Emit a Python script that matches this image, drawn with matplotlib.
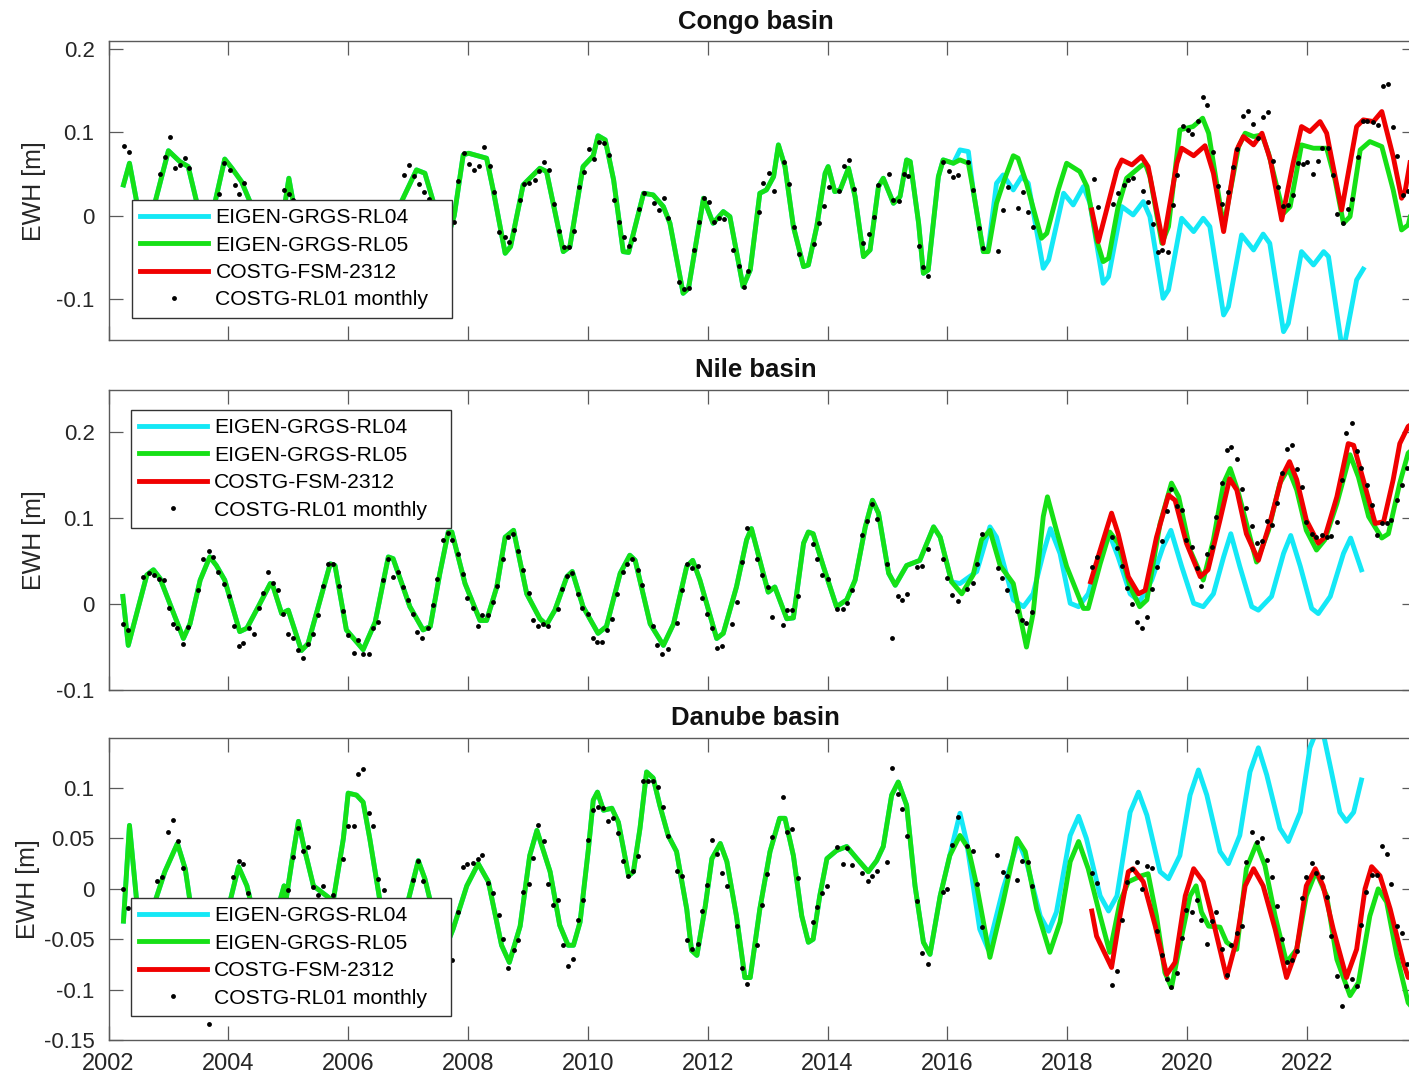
import numpy as np
import matplotlib.pyplot as plt
from matplotlib.lines import Line2D
from matplotlib.ticker import FormatStrFormatter

plt.rcParams['font.family'] = ['Liberation Sans', 'DejaVu Sans']

series_names = ["EIGEN-GRGS-RL04", "EIGEN-GRGS-RL05", "COSTG-FSM-2312", "COSTG-RL01 monthly"]
year_ticks = list(range(2002, 2024, 2))

# ---------------- Congo ----------------
congo_rl05 = [
    (2002.25, 0.037), (2002.35, 0.063), (2002.47, 0.017), (2002.60, -0.020), (2002.78, 0.017), (2003.00, 0.078),
    (2003.19, 0.065), (2003.33, 0.059), (2003.47, 0.017), (2003.60, -0.030), (2003.78, 0.017), (2003.94, 0.068),
    (2004.06, 0.057), (2004.22, 0.041), (2004.36, 0.017), (2004.60, -0.050), (2004.95, 0.017), (2005.01, 0.045),
    (2005.08, 0.017), (2005.50, -0.050), (2006.20, 0.000), (2006.60, -0.060), (2006.89, 0.017), (2007.14, 0.055),
    (2007.28, 0.051), (2007.42, 0.017), (2007.60, -0.040), (2007.77, 0.000), (2007.92, 0.073), (2008.01, 0.075),
    (2008.31, 0.069), (2008.42, 0.031), (2008.62, -0.045), (2008.71, -0.037), (2008.92, 0.037), (2009.20, 0.057),
    (2009.31, 0.053), (2009.59, -0.043), (2009.70, -0.037), (2009.92, 0.059), (2010.09, 0.072), (2010.17, 0.096),
    (2010.29, 0.091), (2010.43, 0.043), (2010.59, -0.043), (2010.68, -0.044), (2010.93, 0.027), (2011.09, 0.025),
    (2011.26, 0.011), (2011.37, -0.009), (2011.59, -0.093), (2011.68, -0.087), (2011.93, 0.021), (2012.09, -0.009),
    (2012.26, 0.005), (2012.37, -0.001), (2012.59, -0.085), (2012.71, -0.065), (2012.87, 0.027), (2012.98, 0.031),
    (2013.10, 0.047), (2013.18, 0.085), (2013.29, 0.059), (2013.43, -0.013), (2013.60, -0.061), (2013.68, -0.059),
    (2013.82, -0.013), (2013.96, 0.051), (2014.01, 0.059), (2014.12, 0.029), (2014.21, 0.031), (2014.35, 0.057),
    (2014.46, 0.023), (2014.60, -0.049), (2014.71, -0.041), (2014.85, 0.035), (2014.93, 0.045), (2015.10, 0.015),
    (2015.21, 0.023), (2015.32, 0.067), (2015.38, 0.065), (2015.52, -0.009), (2015.60, -0.069), (2015.68, -0.065),
    (2015.85, 0.047), (2015.93, 0.067), (2016.10, 0.063), (2016.21, 0.067), (2016.35, 0.063), (2016.43, 0.031),
    (2016.60, -0.043), (2016.68, -0.043), (2016.82, 0.015), (2016.93, 0.039), (2017.10, 0.072), (2017.18, 0.069),
    (2017.32, 0.039), (2017.57, -0.027), (2017.66, -0.021), (2017.85, 0.031), (2017.99, 0.063), (2018.21, 0.053),
    (2018.33, 0.035), (2018.49, -0.029), (2018.60, -0.055), (2018.69, -0.051), (2018.85, 0.011), (2018.99, 0.045),
    (2019.22, 0.059), (2019.30, 0.063), (2019.38, 0.047), (2019.58, -0.033), (2019.69, -0.013), (2019.88, 0.103),
    (2020.10, 0.107), (2020.26, 0.117), (2020.36, 0.099), (2020.61, -0.013), (2020.86, 0.083), (2020.97, 0.099),
    (2021.11, 0.095), (2021.25, 0.097), (2021.36, 0.075), (2021.61, 0.003), (2021.72, 0.011), (2021.91, 0.085),
    (2022.11, 0.081), (2022.33, 0.081), (2022.47, 0.043), (2022.61, -0.009), (2022.72, -0.001), (2022.89, 0.079),
    (2023.05, 0.089), (2023.25, 0.083), (2023.44, 0.031), (2023.58, -0.017), (2023.69, -0.011), (2023.76, 0.010),
]
congo_rl04_late = [
    (2016.21, 0.079), (2016.35, 0.077), (2016.43, 0.031), (2016.60, -0.043), (2016.68, -0.041), (2016.82, 0.039),
    (2016.93, 0.049), (2017.10, 0.031), (2017.24, 0.047), (2017.35, 0.039), (2017.60, -0.063), (2017.69, -0.053),
    (2017.94, 0.027), (2018.10, 0.013), (2018.27, 0.035), (2018.38, 0.015), (2018.60, -0.081), (2018.69, -0.073),
    (2018.91, 0.011), (2019.10, 0.001), (2019.27, 0.017), (2019.38, -0.001), (2019.60, -0.099), (2019.69, -0.089),
    (2019.91, -0.003), (2020.11, -0.019), (2020.27, -0.003), (2020.38, -0.013), (2020.61, -0.119), (2020.69, -0.109),
    (2020.91, -0.023), (2021.11, -0.041), (2021.27, -0.022), (2021.38, -0.033), (2021.61, -0.139), (2021.69, -0.129),
    (2021.91, -0.043), (2022.11, -0.059), (2022.28, -0.043), (2022.36, -0.049), (2022.60, -0.165), (2022.83, -0.077),
    (2022.94, -0.064),
]
congo_fsm = [
    (2018.41, 0.007), (2018.52, -0.031), (2018.83, 0.055), (2018.91, 0.067), (2019.08, 0.061), (2019.24, 0.071),
    (2019.35, 0.059), (2019.60, -0.033), (2019.83, 0.063), (2019.91, 0.081), (2020.11, 0.072), (2020.30, 0.084),
    (2020.44, 0.051), (2020.61, -0.019), (2020.83, 0.079), (2020.94, 0.095), (2021.11, 0.085), (2021.25, 0.099),
    (2021.39, 0.067), (2021.58, -0.005), (2021.77, 0.063), (2021.91, 0.107), (2022.05, 0.101), (2022.22, 0.113),
    (2022.33, 0.099), (2022.58, 0.007), (2022.83, 0.107), (2022.94, 0.115), (2023.11, 0.113), (2023.25, 0.125),
    (2023.44, 0.071), (2023.58, 0.021), (2023.64, 0.030), (2023.76, 0.080),
]
congo_monthly = [
    (2002.26, 0.084), (2002.35, 0.077), (2002.86, 0.050), (2002.94, 0.071), (2003.03, 0.094), (2003.11, 0.057),
    (2003.19, 0.061), (2003.28, 0.069), (2003.35, 0.057), (2003.85, 0.026), (2003.93, 0.063), (2004.03, 0.055),
    (2004.11, 0.037), (2004.18, 0.026), (2004.26, 0.039), (2004.93, 0.031), (2005.02, 0.026), (2005.08, 0.019),
    (2006.93, 0.049), (2007.02, 0.061), (2007.10, 0.048), (2007.19, 0.038), (2007.27, 0.029), (2007.35, 0.020),
    (2007.77, -0.007), (2007.84, 0.042), (2007.93, 0.075), (2008.02, 0.062), (2008.10, 0.055), (2008.19, 0.060),
    (2008.27, 0.082), (2008.36, 0.060), (2008.44, 0.028), (2008.52, -0.019), (2008.61, -0.025), (2008.69, -0.031),
    (2008.77, -0.017), (2008.86, 0.019), (2008.93, 0.038), (2009.02, 0.039), (2009.11, 0.043), (2009.19, 0.054),
    (2009.26, 0.064), (2009.35, 0.055), (2009.43, 0.014), (2009.52, -0.018), (2009.60, -0.038), (2009.69, -0.038),
    (2009.77, -0.018), (2009.85, 0.034), (2009.93, 0.053), (2010.02, 0.080), (2010.10, 0.068), (2010.19, 0.089),
    (2010.27, 0.087), (2010.35, 0.073), (2010.44, 0.019), (2010.52, -0.008), (2010.60, -0.026), (2010.69, -0.036),
    (2010.77, -0.028), (2010.85, 0.008), (2010.94, 0.027), (2011.10, 0.015), (2011.19, 0.007), (2011.27, 0.021),
    (2011.34, -0.003), (2011.52, -0.080), (2011.60, -0.088), (2011.69, -0.087), (2011.77, -0.041), (2011.85, -0.007),
    (2011.93, 0.021), (2012.02, 0.017), (2012.105, -0.008), (2012.19, -0.003), (2012.27, -0.004), (2012.43, -0.041),
    (2012.52, -0.060), (2012.60, -0.085), (2012.68, -0.066), (2012.85, 0.005), (2012.93, 0.039), (2013.02, 0.051),
    (2013.10, 0.030), (2013.27, 0.065), (2013.35, 0.038), (2013.44, -0.014), (2013.52, -0.046), (2013.77, -0.034),
    (2013.85, -0.009), (2013.94, 0.012), (2014.02, 0.035), (2014.19, 0.030), (2014.27, 0.060), (2014.35, 0.067),
    (2014.44, 0.032), (2014.60, -0.033), (2014.69, -0.022), (2014.77, -0.002), (2014.85, 0.037), (2015.02, 0.050),
    (2015.10, 0.019), (2015.19, 0.018), (2015.27, 0.050), (2015.35, 0.048), (2015.52, -0.036), (2015.60, -0.061),
    (2015.68, -0.072), (2015.93, 0.064), (2016.02, 0.054), (2016.10, 0.047), (2016.18, 0.049), (2016.35, 0.065),
    (2016.43, 0.031), (2016.52, -0.015), (2016.60, -0.039), (2016.85, -0.042), (2016.93, 0.007), (2017.02, 0.034),
    (2017.18, 0.009), (2017.27, 0.028), (2017.35, 0.005), (2017.43, -0.013), (2018.44, 0.044), (2018.52, 0.011),
    (2018.77, 0.014), (2018.85, 0.027), (2018.94, 0.037), (2019.02, 0.043), (2019.10, 0.045), (2019.26, 0.030),
    (2019.34, 0.017), (2019.43, -0.010), (2019.51, -0.043), (2019.59, -0.041), (2019.68, -0.044), (2019.76, 0.013),
    (2019.84, 0.049), (2019.93, 0.108), (2020.01, 0.103), (2020.09, 0.098), (2020.18, 0.114), (2020.26, 0.143),
    (2020.34, 0.133), (2020.43, 0.077), (2020.51, 0.036), (2020.59, 0.014), (2020.68, 0.029), (2020.76, 0.059),
    (2020.84, 0.080), (2020.93, 0.120), (2021.01, 0.126), (2021.10, 0.110), (2021.18, 0.093), (2021.26, 0.118),
    (2021.35, 0.124), (2021.43, 0.066), (2021.51, 0.035), (2021.60, 0.012), (2021.68, 0.013), (2021.76, 0.025),
    (2021.85, 0.063), (2021.93, 0.062), (2022.01, 0.064), (2022.10, 0.050), (2022.18, 0.066), (2022.26, 0.081),
    (2022.35, 0.081), (2022.43, 0.049), (2022.51, 0.002), (2022.60, -0.009), (2022.68, 0.008), (2022.76, 0.020),
    (2022.85, 0.070), (2022.93, 0.114), (2023.01, 0.114), (2023.10, 0.112), (2023.18, 0.109), (2023.27, 0.156),
    (2023.35, 0.158), (2023.43, 0.106), (2023.51, 0.072), (2023.60, 0.025), (2023.68, 0.030),
]

# ---------------- Nile ----------------
nile_rl05 = [
    (2002.24, 0.009), (2002.33, -0.048), (2002.47, -0.011), (2002.64, 0.034), (2002.75, 0.040), (2002.86, 0.030),
    (2003.25, -0.040), (2003.36, -0.023), (2003.53, 0.028), (2003.69, 0.055), (2003.80, 0.045), (2003.94, 0.028),
    (2004.19, -0.032), (2004.31, -0.028), (2004.50, -0.003), (2004.70, 0.024), (2004.75, 0.020), (2004.89, -0.011),
    (2005.00, -0.007), (2005.22, -0.054), (2005.33, -0.046), (2005.56, 0.012), (2005.70, 0.047), (2005.78, 0.045),
    (2005.97, -0.030), (2006.25, -0.053), (2006.45, -0.021), (2006.67, 0.055), (2006.75, 0.053), (2007.03, -0.003),
    (2007.25, -0.030), (2007.37, -0.026), (2007.53, 0.036), (2007.67, 0.084), (2007.73, 0.084), (2007.95, 0.024),
    (2008.20, -0.019), (2008.31, -0.019), (2008.48, 0.020), (2008.62, 0.078), (2008.76, 0.086), (2008.98, 0.012),
    (2009.20, -0.017), (2009.31, -0.024), (2009.45, -0.007), (2009.65, 0.032), (2009.74, 0.038), (2009.92, -0.003),
    (2010.17, -0.034), (2010.31, -0.026), (2010.54, 0.036), (2010.70, 0.057), (2010.79, 0.051), (2011.04, -0.023),
    (2011.26, -0.048), (2011.43, -0.023), (2011.65, 0.044), (2011.75, 0.051), (2011.87, 0.028), (2012.15, -0.040),
    (2012.26, -0.034), (2012.48, 0.020), (2012.65, 0.075), (2012.73, 0.088), (2012.87, 0.051), (2013.01, 0.014),
    (2013.12, 0.020), (2013.32, -0.017), (2013.43, -0.016), (2013.60, 0.071), (2013.68, 0.084), (2013.76, 0.082),
    (2013.93, 0.044), (2014.15, -0.003), (2014.32, 0.005), (2014.46, 0.028), (2014.63, 0.090), (2014.75, 0.121),
    (2014.85, 0.106), (2015.02, 0.036), (2015.13, 0.022), (2015.32, 0.045), (2015.54, 0.051), (2015.77, 0.090),
    (2015.88, 0.078), (2016.07, 0.026), (2016.24, 0.012), (2016.43, 0.034), (2016.57, 0.075), (2016.71, 0.086),
    (2016.88, 0.045), (2017.10, 0.024), (2017.32, -0.050), (2017.43, -0.011), (2017.60, 0.102), (2017.67, 0.125),
    (2017.82, 0.086), (2017.99, 0.044), (2018.27, -0.005), (2018.35, -0.005), (2018.55, 0.047), (2018.71, 0.084),
    (2018.85, 0.071), (2019.05, 0.020), (2019.21, -0.003), (2019.33, 0.005), (2019.55, 0.094), (2019.74, 0.141),
    (2019.86, 0.125), (2020.05, 0.063), (2020.27, 0.028), (2020.44, 0.075), (2020.61, 0.141), (2020.72, 0.158),
    (2020.86, 0.129), (2021.05, 0.078), (2021.16, 0.049), (2021.36, 0.086), (2021.55, 0.141), (2021.69, 0.158),
    (2021.83, 0.133), (2021.99, 0.086), (2022.16, 0.063), (2022.30, 0.075), (2022.50, 0.117), (2022.72, 0.174),
    (2022.86, 0.148), (2023.03, 0.102), (2023.25, 0.077), (2023.36, 0.082), (2023.55, 0.141), (2023.69, 0.176),
    (2023.76, 0.180),
]
nile_rl04_late = [
    (2016.21, 0.024), (2016.49, 0.038), (2016.71, 0.090), (2016.82, 0.078), (2017.10, 0.005), (2017.27, -0.003),
    (2017.43, 0.012), (2017.60, 0.059), (2017.72, 0.088), (2017.88, 0.059), (2018.05, 0.001), (2018.19, -0.003),
    (2018.35, 0.012), (2018.55, 0.059), (2018.69, 0.084), (2018.85, 0.055), (2019.05, 0.012), (2019.21, 0.003),
    (2019.41, 0.028), (2019.60, 0.067), (2019.73, 0.086), (2019.91, 0.044), (2020.11, 0.001), (2020.27, -0.003),
    (2020.44, 0.012), (2020.61, 0.055), (2020.73, 0.082), (2020.88, 0.044), (2021.08, -0.003), (2021.19, -0.007),
    (2021.41, 0.009), (2021.61, 0.059), (2021.73, 0.080), (2021.89, 0.044), (2022.08, -0.005), (2022.19, -0.011),
    (2022.39, 0.009), (2022.61, 0.059), (2022.73, 0.077), (2022.91, 0.040),
]
nile_fsm = [
    (2018.39, 0.026), (2018.55, 0.063), (2018.74, 0.106), (2018.85, 0.082), (2019.02, 0.032), (2019.19, 0.012),
    (2019.30, 0.016), (2019.49, 0.078), (2019.69, 0.127), (2019.80, 0.121), (2019.99, 0.071), (2020.22, 0.032),
    (2020.35, 0.040), (2020.55, 0.098), (2020.71, 0.146), (2020.83, 0.133), (2020.99, 0.082), (2021.19, 0.051),
    (2021.38, 0.094), (2021.58, 0.148), (2021.71, 0.166), (2021.83, 0.145), (2021.99, 0.098), (2022.19, 0.071),
    (2022.30, 0.078), (2022.50, 0.125), (2022.69, 0.187), (2022.78, 0.185), (2022.94, 0.145), (2023.14, 0.094),
    (2023.28, 0.096), (2023.44, 0.145), (2023.55, 0.187), (2023.69, 0.207), (2023.76, 0.210),
]
nile_monthly = [
    (2002.24, -0.023), (2002.33, -0.030), (2002.58, 0.032), (2002.68, 0.036), (2002.76, 0.034), (2002.85, 0.029),
    (2002.93, 0.028), (2003.01, -0.005), (2003.08, -0.023), (2003.15, -0.028), (2003.25, -0.046), (2003.33, -0.027),
    (2003.50, 0.016), (2003.58, 0.052), (2003.67, 0.062), (2003.75, 0.055), (2003.83, 0.037), (2003.93, 0.024),
    (2004.01, 0.009), (2004.09, -0.026), (2004.17, -0.049), (2004.25, -0.045), (2004.34, -0.028), (2004.43, -0.035),
    (2004.51, -0.004), (2004.58, 0.013), (2004.67, 0.038), (2004.75, 0.025), (2004.83, 0.016), (2004.92, -0.011),
    (2005.00, -0.035), (2005.08, -0.040), (2005.17, -0.053), (2005.25, -0.063), (2005.33, -0.046), (2005.42, -0.035),
    (2005.50, -0.013), (2005.58, 0.021), (2005.67, 0.047), (2005.75, 0.047), (2005.84, 0.021), (2005.92, -0.008),
    (2006.00, -0.036), (2006.09, -0.057), (2006.17, -0.042), (2006.25, -0.058), (2006.34, -0.058), (2006.42, -0.028),
    (2006.49, -0.021), (2006.58, 0.028), (2006.66, 0.052), (2006.74, 0.032), (2006.83, 0.038), (2006.91, 0.020),
    (2006.99, 0.005), (2007.08, -0.011), (2007.15, -0.033), (2007.23, -0.040), (2007.33, -0.028), (2007.41, -0.001),
    (2007.49, 0.029), (2007.58, 0.075), (2007.66, 0.083), (2007.74, 0.075), (2007.83, 0.058), (2007.91, 0.035),
    (2007.99, 0.007), (2008.08, -0.005), (2008.16, -0.026), (2008.24, -0.013), (2008.33, -0.013), (2008.41, 0.002),
    (2008.49, 0.021), (2008.58, 0.052), (2008.66, 0.078), (2008.75, 0.082), (2008.83, 0.062), (2008.91, 0.040),
    (2009.01, 0.013), (2009.08, -0.018), (2009.16, -0.026), (2009.25, -0.023), (2009.33, -0.026), (2009.50, -0.006),
    (2009.57, 0.018), (2009.66, 0.033), (2009.74, 0.036), (2009.83, 0.012), (2009.91, -0.005), (2010.00, -0.012),
    (2010.08, -0.040), (2010.16, -0.044), (2010.24, -0.044), (2010.32, -0.030), (2010.41, -0.017), (2010.49, 0.012),
    (2010.58, 0.037), (2010.66, 0.047), (2010.74, 0.052), (2010.83, 0.040), (2010.91, 0.022), (2011.08, -0.026),
    (2011.16, -0.048), (2011.24, -0.058), (2011.33, -0.052), (2011.48, -0.022), (2011.57, 0.017), (2011.66, 0.047),
    (2011.74, 0.042), (2011.83, 0.044), (2011.91, 0.007), (2011.99, -0.011), (2012.08, -0.028), (2012.16, -0.051),
    (2012.24, -0.049), (2012.41, -0.023), (2012.49, 0.003), (2012.58, 0.049), (2012.66, 0.089), (2012.83, 0.052),
    (2012.91, 0.034), (2013.00, 0.020), (2013.08, -0.015), (2013.25, -0.024), (2013.33, -0.007), (2013.41, -0.007),
    (2013.50, 0.010), (2013.75, 0.070), (2013.83, 0.052), (2013.91, 0.034), (2014.00, 0.029), (2014.16, -0.006),
    (2014.25, -0.006), (2014.33, 0.001), (2014.41, 0.016), (2014.58, 0.080), (2014.66, 0.097), (2014.75, 0.117),
    (2014.83, 0.099), (2015.00, 0.047), (2015.08, -0.039), (2015.17, 0.009), (2015.25, 0.005), (2015.33, 0.012),
    (2015.50, 0.043), (2015.58, 0.044), (2015.67, 0.064), (2015.92, 0.052), (2016.00, 0.031), (2016.08, 0.011),
    (2016.17, 0.004), (2016.33, 0.018), (2016.42, 0.025), (2016.50, 0.047), (2016.58, 0.082), (2016.84, 0.042),
    (2016.91, 0.030), (2016.99, 0.017), (2017.16, -0.008), (2017.24, -0.018), (2017.32, -0.022), (2017.41, -0.009),
    (2018.41, 0.043), (2018.49, 0.055), (2018.74, 0.078), (2018.83, 0.065), (2018.91, 0.044), (2018.99, 0.019),
    (2019.08, 0.000), (2019.16, -0.021), (2019.24, -0.028), (2019.33, -0.015), (2019.41, 0.018), (2019.49, 0.043),
    (2019.58, 0.074), (2019.66, 0.108), (2019.74, 0.134), (2019.83, 0.114), (2019.91, 0.110), (2019.99, 0.075),
    (2020.08, 0.066), (2020.16, 0.042), (2020.24, 0.021), (2020.33, 0.058), (2020.41, 0.066), (2020.49, 0.102),
    (2020.58, 0.141), (2020.66, 0.179), (2020.74, 0.183), (2020.83, 0.169), (2020.91, 0.134), (2020.99, 0.112),
    (2021.08, 0.091), (2021.16, 0.071), (2021.25, 0.074), (2021.33, 0.097), (2021.41, 0.092), (2021.50, 0.118),
    (2021.58, 0.153), (2021.66, 0.181), (2021.75, 0.185), (2021.83, 0.157), (2021.91, 0.136), (2021.99, 0.096),
    (2022.08, 0.082), (2022.16, 0.078), (2022.25, 0.080), (2022.33, 0.078), (2022.41, 0.079), (2022.50, 0.096),
    (2022.58, 0.145), (2022.66, 0.199), (2022.75, 0.211), (2022.83, 0.178), (2022.91, 0.159), (2023.00, 0.139),
    (2023.08, 0.115), (2023.17, 0.080), (2023.25, 0.094), (2023.33, 0.094), (2023.41, 0.098), (2023.50, 0.121),
    (2023.58, 0.139), (2023.67, 0.159),
]

# ---------------- Danube ----------------
danube_rl05 = [
    (2002.25, -0.032), (2002.35, 0.063), (2002.47, -0.012), (2002.60, -0.050), (2002.78, -0.012), (2002.94, 0.017),
    (2003.15, 0.045), (2003.28, 0.020), (2003.36, -0.012), (2003.60, -0.080), (2003.90, -0.060), (2004.03, -0.012),
    (2004.17, 0.022), (2004.31, 0.003), (2004.37, -0.012), (2004.60, -0.070), (2004.86, -0.012), (2004.93, 0.003),
    (2004.96, -0.012), (2005.06, 0.027), (2005.17, 0.067), (2005.26, 0.042), (2005.42, 0.003), (2005.64, -0.007),
    (2005.75, -0.012), (2005.92, 0.050), (2006.00, 0.095), (2006.14, 0.093), (2006.25, 0.086), (2006.36, 0.050),
    (2006.53, -0.012), (2006.70, -0.060), (2007.00, -0.012), (2007.17, 0.028), (2007.28, 0.010), (2007.37, -0.012),
    (2007.55, -0.070), (2007.75, -0.040), (2007.98, 0.003), (2008.17, 0.025), (2008.34, 0.007), (2008.56, -0.056),
    (2008.69, -0.073), (2008.87, -0.037), (2009.03, 0.033), (2009.15, 0.058), (2009.37, 0.017), (2009.53, -0.036),
    (2009.67, -0.056), (2009.76, -0.056), (2009.87, -0.033), (2010.01, 0.040), (2010.09, 0.088), (2010.16, 0.096),
    (2010.26, 0.078), (2010.40, 0.080), (2010.51, 0.066), (2010.68, 0.013), (2010.76, 0.017), (2010.87, 0.060),
    (2010.98, 0.116), (2011.09, 0.110), (2011.20, 0.083), (2011.34, 0.053), (2011.48, 0.037), (2011.65, -0.020),
    (2011.73, -0.061), (2011.82, -0.066), (2011.96, -0.017), (2012.07, 0.030), (2012.21, 0.045), (2012.32, 0.027),
    (2012.48, -0.027), (2012.62, -0.088), (2012.71, -0.088), (2012.87, -0.020), (2013.04, 0.037), (2013.20, 0.070),
    (2013.29, 0.070), (2013.43, 0.033), (2013.57, -0.027), (2013.68, -0.053), (2013.76, -0.050), (2013.87, -0.007),
    (2013.99, 0.030), (2014.15, 0.038), (2014.32, 0.042), (2014.49, 0.030), (2014.68, 0.017), (2014.82, 0.028),
    (2014.93, 0.042), (2015.07, 0.093), (2015.18, 0.106), (2015.32, 0.083), (2015.46, 0.003), (2015.60, -0.053),
    (2015.71, -0.065), (2015.88, -0.007), (2016.04, 0.033), (2016.21, 0.053), (2016.35, 0.040), (2016.49, 0.003),
    (2016.71, -0.068), (2016.93, -0.013), (2017.16, 0.050), (2017.30, 0.037), (2017.49, -0.020), (2017.71, -0.063),
    (2017.88, -0.033), (2018.05, 0.027), (2018.19, 0.047), (2018.35, 0.020), (2018.55, -0.027), (2018.71, -0.063),
    (2018.88, -0.013), (2019.02, 0.007), (2019.24, 0.013), (2019.35, 0.015), (2019.49, -0.027), (2019.63, -0.083),
    (2019.74, -0.098), (2019.91, -0.047), (2020.05, -0.007), (2020.15, 0.003), (2020.24, -0.023), (2020.36, -0.037),
    (2020.55, -0.038), (2020.66, -0.053), (2020.83, -0.060), (2020.99, 0.020), (2021.16, 0.045), (2021.30, 0.023),
    (2021.47, -0.027), (2021.66, -0.073), (2021.83, -0.060), (2021.99, -0.007), (2022.15, 0.017), (2022.33, -0.007),
    (2022.50, -0.070), (2022.72, -0.106), (2022.86, -0.093), (2023.05, -0.027), (2023.19, 0.000), (2023.33, -0.013),
    (2023.50, -0.066), (2023.69, -0.113), (2023.76, -0.118),
]
danube_rl04_late = [
    (2016.21, 0.075), (2016.32, 0.047), (2016.54, -0.040), (2016.68, -0.060), (2016.93, 0.000), (2017.18, 0.048),
    (2017.32, 0.027), (2017.55, -0.027), (2017.69, -0.042), (2017.82, -0.023), (2018.05, 0.053), (2018.19, 0.072),
    (2018.32, 0.050), (2018.55, -0.007), (2018.69, -0.022), (2018.83, -0.007), (2019.05, 0.076), (2019.19, 0.096),
    (2019.33, 0.073), (2019.55, 0.017), (2019.69, 0.010), (2019.88, 0.033), (2020.05, 0.093), (2020.19, 0.118),
    (2020.33, 0.093), (2020.55, 0.037), (2020.69, 0.025), (2020.88, 0.053), (2021.05, 0.116), (2021.19, 0.140),
    (2021.33, 0.113), (2021.55, 0.060), (2021.69, 0.047), (2021.89, 0.076), (2022.05, 0.140), (2022.15, 0.155),
    (2022.27, 0.155), (2022.41, 0.116), (2022.55, 0.076), (2022.66, 0.067), (2022.78, 0.076), (2022.91, 0.108),
]
danube_fsm = [
    (2018.41, -0.022), (2018.49, -0.047), (2018.74, -0.078), (2018.88, -0.027), (2019.02, 0.017), (2019.10, 0.020),
    (2019.27, 0.007), (2019.47, -0.037), (2019.66, -0.085), (2019.80, -0.073), (2019.97, -0.007), (2020.11, 0.020),
    (2020.27, 0.007), (2020.44, -0.033), (2020.66, -0.088), (2020.83, -0.050), (2020.97, 0.003), (2021.11, 0.020),
    (2021.27, 0.003), (2021.47, -0.040), (2021.66, -0.088), (2021.83, -0.060), (2021.99, 0.003), (2022.14, 0.020),
    (2022.27, 0.003), (2022.44, -0.040), (2022.66, -0.088), (2022.83, -0.060), (2022.97, 0.000), (2023.08, 0.022),
    (2023.22, 0.013), (2023.39, -0.020), (2023.61, -0.073), (2023.69, -0.088), (2023.76, -0.085),
]
danube_monthly = [
    (2002.25, 0.000), (2002.33, -0.019), (2002.81, 0.008), (2002.90, 0.012), (2003.00, 0.056), (2003.08, 0.068),
    (2003.16, 0.047), (2003.25, 0.021), (2003.67, -0.134), (2004.08, 0.012), (2004.17, 0.028), (2004.25, 0.025),
    (2004.33, -0.004), (2005.00, -0.001), (2005.08, 0.032), (2005.17, 0.060), (2005.25, 0.038), (2005.33, 0.042),
    (2005.42, 0.002), (2005.50, -0.006), (2005.58, 0.003), (2005.67, -0.011), (2005.75, -0.006), (2005.92, 0.030),
    (2006.00, 0.062), (2006.09, 0.062), (2006.17, 0.114), (2006.25, 0.119), (2006.34, 0.075), (2006.42, 0.062),
    (2006.50, 0.010), (2006.59, -0.001), (2007.09, 0.009), (2007.17, 0.028), (2007.25, 0.008), (2007.74, -0.071),
    (2007.83, -0.023), (2007.91, 0.022), (2007.99, 0.025), (2008.08, 0.026), (2008.16, 0.030), (2008.24, 0.034),
    (2008.33, 0.006), (2008.42, -0.004), (2008.51, -0.026), (2008.59, -0.050), (2008.67, -0.079), (2008.76, -0.061),
    (2008.84, -0.051), (2008.92, -0.003), (2009.01, 0.005), (2009.09, 0.031), (2009.17, 0.063), (2009.26, 0.047),
    (2009.34, 0.005), (2009.42, -0.016), (2009.50, -0.011), (2009.58, -0.056), (2009.67, -0.077), (2009.75, -0.070),
    (2009.83, -0.031), (2009.92, -0.011), (2010.00, 0.048), (2010.09, 0.078), (2010.17, 0.081), (2010.25, 0.080),
    (2010.33, 0.067), (2010.42, 0.070), (2010.50, 0.055), (2010.59, 0.028), (2010.67, 0.013), (2010.75, 0.018),
    (2010.84, 0.033), (2010.92, 0.107), (2011.00, 0.107), (2011.09, 0.107), (2011.17, 0.101), (2011.25, 0.081),
    (2011.34, 0.052), (2011.48, 0.018), (2011.57, 0.013), (2011.65, -0.051), (2011.73, -0.060), (2011.83, -0.055),
    (2011.91, -0.022), (2011.99, 0.004), (2012.08, 0.048), (2012.16, 0.035), (2012.24, 0.016), (2012.33, 0.003),
    (2012.49, -0.037), (2012.58, -0.079), (2012.66, -0.094), (2012.83, -0.056), (2012.91, -0.016), (2012.99, 0.015),
    (2013.08, 0.051), (2013.25, 0.091), (2013.33, 0.056), (2013.41, 0.059), (2013.50, 0.011), (2013.75, -0.033),
    (2013.83, -0.018), (2013.91, -0.004), (2013.99, 0.003), (2014.16, 0.042), (2014.25, 0.025), (2014.33, 0.041),
    (2014.41, 0.024), (2014.58, 0.016), (2014.67, 0.008), (2014.75, 0.013), (2014.83, 0.018), (2015.00, 0.027),
    (2015.08, 0.120), (2015.17, 0.094), (2015.25, 0.079), (2015.33, 0.052), (2015.50, -0.012), (2015.58, -0.064),
    (2015.67, -0.075), (2015.92, -0.003), (2016.00, 0.000), (2016.08, 0.044), (2016.17, 0.071), (2016.33, 0.043),
    (2016.42, 0.038), (2016.50, 0.005), (2016.58, -0.038), (2016.83, 0.034), (2016.92, 0.017), (2017.00, 0.013),
    (2017.17, 0.009), (2017.25, 0.028), (2017.34, 0.027), (2017.42, 0.003), (2018.42, 0.016), (2018.50, 0.006),
    (2018.75, -0.095), (2018.83, -0.082), (2018.91, -0.031), (2018.99, 0.007), (2019.08, 0.020), (2019.16, 0.027),
    (2019.24, 0.000), (2019.33, 0.023), (2019.41, 0.021), (2019.49, -0.042), (2019.58, -0.066), (2019.66, -0.089),
    (2019.74, -0.097), (2019.83, -0.084), (2019.91, -0.049), (2019.99, -0.021), (2020.08, -0.023), (2020.16, -0.011),
    (2020.24, -0.031), (2020.33, -0.055), (2020.41, -0.032), (2020.49, -0.023), (2020.58, -0.060), (2020.66, -0.085),
    (2020.74, -0.056), (2020.83, -0.044), (2020.91, -0.037), (2020.99, 0.027), (2021.08, 0.056), (2021.16, 0.046),
    (2021.25, 0.050), (2021.33, 0.029), (2021.41, 0.012), (2021.50, -0.017), (2021.58, -0.050), (2021.66, -0.073),
    (2021.75, -0.071), (2021.83, -0.062), (2021.91, -0.009), (2021.99, 0.012), (2022.08, 0.026), (2022.16, 0.016),
    (2022.25, 0.012), (2022.33, -0.008), (2022.41, -0.047), (2022.50, -0.086), (2022.58, -0.116), (2022.66, -0.096),
    (2022.75, -0.089), (2022.83, -0.096), (2022.91, -0.036), (2022.99, -0.003), (2023.08, 0.014), (2023.17, 0.014),
    (2023.25, 0.043), (2023.33, 0.035), (2023.41, 0.005), (2023.50, -0.037), (2023.58, -0.044), (2023.67, -0.075),
]

CYAN, GREEN, RED = '#14e8f6', '#16e016', '#f00000'
LW = 3.5
FW, FH = 1409.0, 1078.0
PX_PER_YEAR = 59.92

panels = [
    # title, rl05, rl04 tail, fsm, monthly, ylim, yticks, axes top/bottom px, legend anchor, ylabel x
    ("Congo basin", congo_rl05, congo_rl04_late, congo_fsm, congo_monthly,
     (-0.149, 0.209), [-0.1, 0, 0.1, 0.2], (41.5, 340.0), (0.018, 0.074), -0.048),
    ("Nile basin", nile_rl05, nile_rl04_late, nile_fsm, nile_monthly,
     (-0.1, 0.25), [-0.1, 0, 0.1, 0.2], (389.5, 690.0), (0.017, 0.539), -0.048),
    ("Danube basin", danube_rl05, danube_rl04_late, danube_fsm, danube_monthly,
     (-0.15, 0.15), [-0.15, -0.1, -0.05, 0, 0.05, 0.1], (737.7, 1040.0), (0.017, 0.079), -0.0526),
]

fig = plt.figure(figsize=(FW / 100, FH / 100), dpi=100)
left_px, right_px = 108.5, 1416.0
x_end = 2002 + (right_px - left_px) / PX_PER_YEAR
leg_w = 320.0 / (right_px - left_px)

for i, (title, rl05, rl04_late, fsm, monthly, ylim, yticks, (top_px, bot_px), leg_xy, ylab_x) in enumerate(panels):
    ax = fig.add_axes([left_px / FW, 1 - bot_px / FH, (right_px - left_px) / FW, (bot_px - top_px) / FH])

    g = np.array(rl05)
    c_tail = np.array(rl04_late)
    # RL04 lies under RL05 until the two solutions split
    c = np.vstack([g[g[:, 0] < c_tail[0, 0]], c_tail])
    r = np.array(fsm)
    m = np.array(monthly)

    ax.plot(c[:, 0], c[:, 1], color=CYAN, lw=LW, solid_joinstyle='round', zorder=2)
    ax.plot(g[:, 0], g[:, 1], color=GREEN, lw=LW, solid_joinstyle='round', zorder=3)
    ax.plot(r[:, 0], r[:, 1], color=RED, lw=LW, solid_joinstyle='round', zorder=4)
    ax.plot(m[:, 0], m[:, 1], 'o', color='k', ms=3.5, mec='none', zorder=5)

    ax.set_xlim(2002, x_end)
    ax.set_ylim(*ylim)
    ax.set_xticks(year_ticks)
    ax.set_yticks(yticks)
    ax.yaxis.set_major_formatter(FormatStrFormatter('%g'))
    if i < 2:
        ax.set_xticklabels([])
    ax.tick_params(direction='in', length=10, width=0.9, color='#5a5a5a', labelsize=16,
                   labelcolor='#262626', top=True, right=True, pad=10)
    ax.tick_params(axis='x', pad=9, labelsize=17)
    for s in ax.spines.values():
        s.set_color('#5a5a5a')
        s.set_linewidth(1.0)

    ax.set_title(title, fontsize=18.5, fontweight='bold', color='#111111', pad=9, x=0.495)
    ax.set_ylabel('EWH [m]', fontsize=18, color='#262626')
    ax.yaxis.set_label_coords(ylab_x, 0.5)

    handles = [
        Line2D([], [], color=CYAN, lw=LW),
        Line2D([], [], color=GREEN, lw=LW),
        Line2D([], [], color=RED, lw=LW),
        Line2D([], [], color='k', marker='o', ms=3.5, mec='none', ls='none'),
    ]
    leg = ax.legend(handles, series_names, loc='lower left',
                    bbox_to_anchor=(leg_xy[0], leg_xy[1], leg_w, 0.4), mode='expand', borderaxespad=0,
                    fontsize=15.2, fancybox=False, framealpha=1, edgecolor='#333333',
                    handlelength=3.2, handletextpad=0.35, labelspacing=0.4, borderpad=0.4)
    leg.get_frame().set_linewidth(1.0)
    leg.set_zorder(10)

fig.savefig('out.png', dpi=100)
